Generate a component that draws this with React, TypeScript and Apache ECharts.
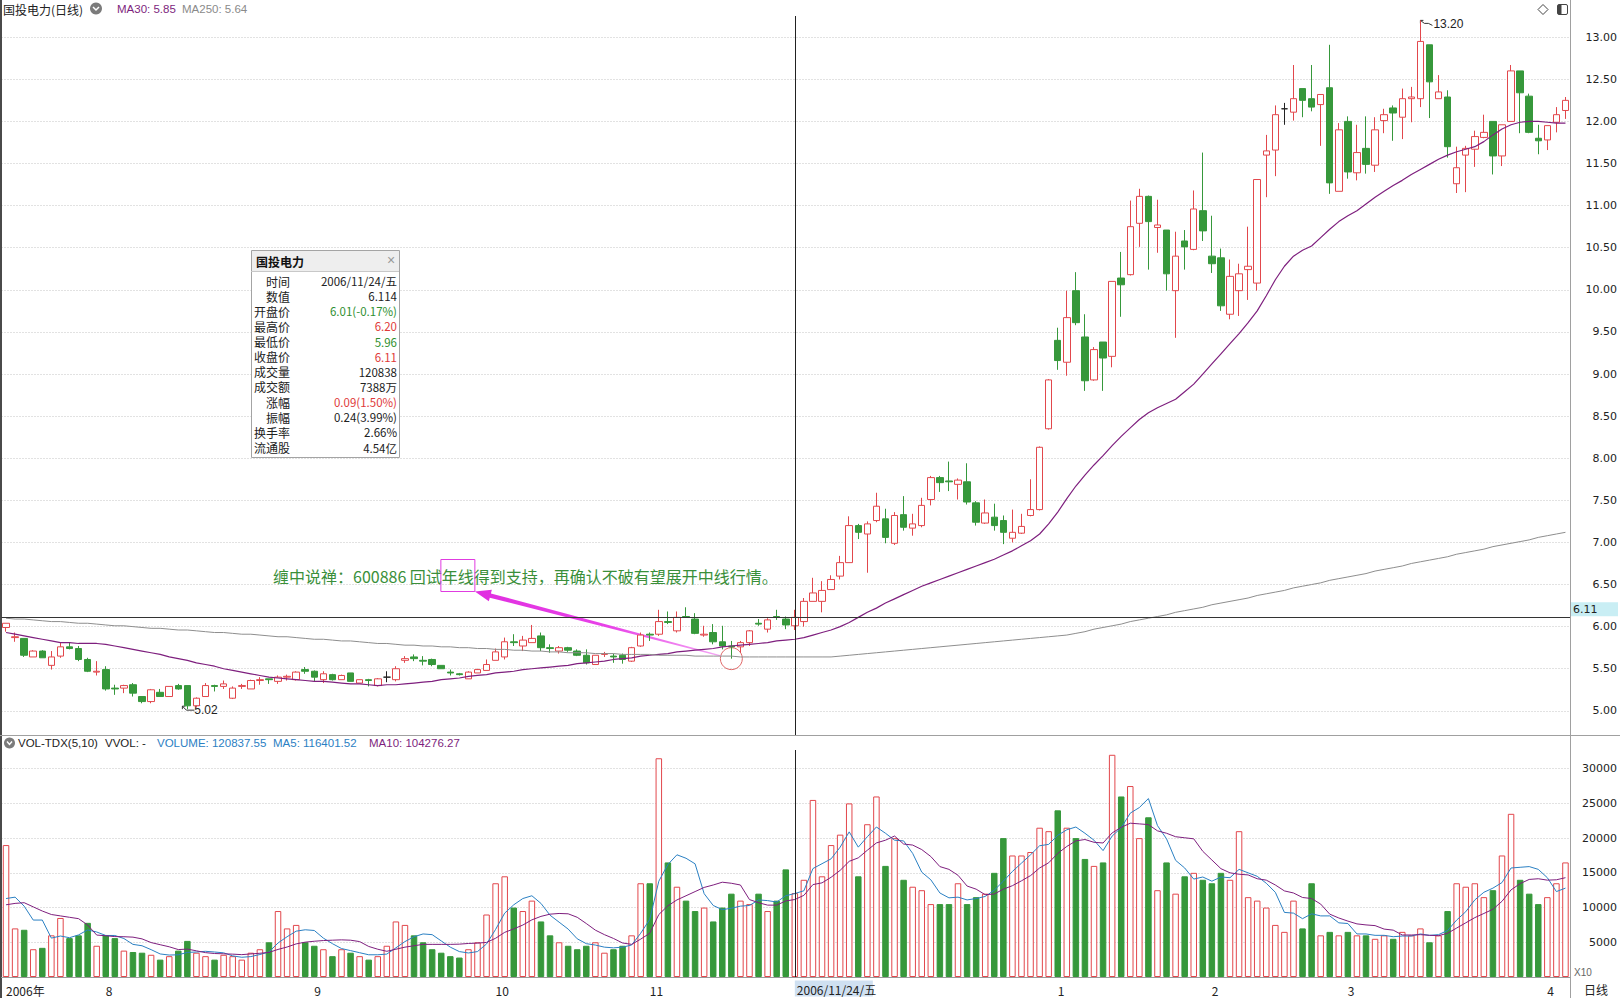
import React, { useEffect, useRef } from 'react';
import * as echarts from 'echarts';

// ---------- data ----------
const opens = [
  5.99, 5.87, 5.86, 5.64, 5.71, 5.54, 5.65, 5.76, 5.74, 5.61,
  5.46, 5.49, 5.27, 5.27, 5.31, 5.17, 5.11, 5.22, 5.17, 5.30,
  5.30, 5.06, 5.17, 5.30, 5.29, 5.15, 5.29, 5.26, 5.36, 5.38,
  5.35, 5.40, 5.37, 5.49, 5.47, 5.37, 5.43, 5.37, 5.45, 5.33,
  5.37, 5.30, 5.40, 5.37, 5.60, 5.64, 5.60, 5.61, 5.54, 5.46,
  5.44, 5.38, 5.45, 5.48, 5.60, 5.64, 5.82, 5.77, 5.81, 5.89,
  5.75, 5.71, 5.75, 5.71, 5.66, 5.55, 5.67, 5.65, 5.66, 5.59,
  5.77, 5.91, 5.91, 6.06, 5.95, 6.12, 6.09, 5.90, 5.93, 5.82,
  5.77, 5.76, 5.81, 6.04, 5.97, 6.12, 6.09, 6.01, 6.06, 6.30,
  6.30, 6.44, 6.60, 6.76, 7.20, 7.10, 7.26, 7.28, 6.99, 7.33,
  7.17, 7.20, 7.51, 7.77, 7.73, 7.69, 7.72, 7.47, 7.23, 7.30,
  7.26, 7.05, 7.11, 7.32, 7.39, 8.35, 9.40, 9.14, 9.99, 9.44,
  8.93, 9.38, 9.21, 10.14, 10.18, 10.79, 11.11, 10.74, 10.71, 9.99,
  10.58, 10.48, 10.94, 10.40, 10.38, 9.71, 9.99, 10.24, 10.08, 11.60,
  11.66, 12.15, 12.11, 12.39, 12.27, 12.20, 12.40, 11.17, 12.00, 11.39,
  11.68, 11.48, 12.01, 12.16, 12.05, 12.27, 12.27, 12.91, 12.27, 12.29,
  11.26, 11.60, 11.67, 11.81, 12.00, 11.59, 12.00, 12.60, 12.30, 11.80,
  11.78, 11.99, 12.13,
];
const closes = [
  6.04, 5.88, 5.66, 5.71, 5.63, 5.64, 5.76, 5.74, 5.61, 5.47,
  5.47, 5.26, 5.26, 5.30, 5.21, 5.11, 5.25, 5.17, 5.29, 5.26,
  5.06, 5.15, 5.30, 5.29, 5.32, 5.27, 5.30, 5.36, 5.37, 5.37,
  5.40, 5.41, 5.46, 5.47, 5.40, 5.44, 5.37, 5.42, 5.35, 5.37,
  5.36, 5.38, 5.40, 5.50, 5.62, 5.62, 5.59, 5.55, 5.50, 5.45,
  5.43, 5.46, 5.49, 5.55, 5.70, 5.82, 5.81, 5.84, 5.86, 5.75,
  5.74, 5.75, 5.72, 5.66, 5.57, 5.66, 5.68, 5.64, 5.61, 5.75,
  5.90, 5.90, 6.06, 6.05, 6.11, 6.11, 5.92, 5.91, 5.82, 5.77,
  5.76, 5.81, 5.95, 6.03, 6.08, 6.11, 6.02, 6.11, 6.30, 6.40,
  6.43, 6.56, 6.76, 7.20, 7.12, 7.22, 7.43, 7.06, 7.32, 7.18,
  7.22, 7.44, 7.77, 7.71, 7.72, 7.74, 7.48, 7.24, 7.35, 7.20,
  7.12, 7.12, 7.19, 7.39, 8.13, 8.93, 9.16, 9.67, 9.61, 8.92,
  9.29, 9.19, 10.10, 10.06, 10.75, 11.11, 10.81, 10.77, 10.19, 10.40,
  10.51, 10.96, 10.70, 10.31, 9.81, 10.16, 10.19, 10.28, 11.31, 11.65,
  12.08, 12.15, 12.27, 12.25, 12.17, 12.32, 11.27, 11.90, 11.40, 11.63,
  11.49, 11.90, 12.08, 12.10, 12.27, 12.29, 12.95, 12.47, 12.35, 11.70,
  11.45, 11.68, 11.82, 11.87, 11.59, 11.96, 12.60, 12.34, 11.87, 11.77,
  11.95, 12.08, 12.25,
];
const highs = [
  6.04, 5.93, 5.86, 5.72, 5.72, 5.71, 5.81, 5.81, 5.77, 5.63,
  5.59, 5.53, 5.31, 5.31, 5.33, 5.17, 5.26, 5.26, 5.29, 5.32,
  5.30, 5.16, 5.33, 5.31, 5.36, 5.29, 5.32, 5.37, 5.40, 5.38,
  5.42, 5.43, 5.47, 5.52, 5.48, 5.47, 5.44, 5.43, 5.45, 5.37,
  5.38, 5.39, 5.47, 5.53, 5.65, 5.67, 5.65, 5.62, 5.54, 5.49,
  5.45, 5.47, 5.50, 5.61, 5.74, 5.87, 5.91, 5.89, 6.02, 5.93,
  5.79, 5.77, 5.76, 5.73, 5.73, 5.66, 5.70, 5.68, 5.68, 5.76,
  5.93, 5.93, 6.20, 6.18, 6.18, 6.23, 6.16, 6.01, 6.03, 6.01,
  5.83, 5.83, 5.96, 6.09, 6.10, 6.20, 6.12, 6.20, 6.34, 6.58,
  6.54, 6.61, 6.84, 7.31, 7.22, 7.25, 7.59, 7.40, 7.36, 7.55,
  7.34, 7.53, 7.79, 7.79, 7.96, 7.76, 7.94, 7.49, 7.51, 7.46,
  7.32, 7.39, 7.34, 7.75, 8.14, 8.94, 9.55, 9.99, 10.21, 9.71,
  9.32, 9.38, 10.10, 10.45, 11.06, 11.20, 11.12, 11.07, 10.71, 10.69,
  10.71, 11.18, 11.63, 10.88, 10.49, 10.36, 10.31, 10.75, 11.31, 11.84,
  12.19, 12.22, 12.67, 12.39, 12.67, 12.32, 12.91, 11.98, 12.06, 11.96,
  12.06, 12.05, 12.15, 12.19, 12.39, 12.41, 13.20, 12.91, 12.55, 12.37,
  11.70, 11.71, 11.89, 12.08, 12.00, 11.96, 12.67, 12.60, 12.33, 11.96,
  11.95, 12.17, 12.29,
];
const lows = [
  5.94, 5.82, 5.64, 5.64, 5.63, 5.49, 5.63, 5.73, 5.59, 5.46,
  5.42, 5.24, 5.19, 5.21, 5.17, 5.09, 5.09, 5.17, 5.17, 5.25,
  5.02, 5.04, 5.17, 5.23, 5.26, 5.14, 5.26, 5.26, 5.31, 5.32,
  5.32, 5.36, 5.36, 5.44, 5.35, 5.33, 5.36, 5.37, 5.35, 5.33,
  5.29, 5.29, 5.34, 5.35, 5.57, 5.59, 5.54, 5.53, 5.50, 5.42,
  5.42, 5.38, 5.45, 5.48, 5.60, 5.61, 5.77, 5.71, 5.81, 5.71,
  5.69, 5.68, 5.70, 5.65, 5.55, 5.55, 5.64, 5.57, 5.56, 5.58,
  5.76, 5.83, 5.89, 6.03, 5.93, 6.11, 5.91, 5.88, 5.79, 5.73,
  5.62, 5.69, 5.77, 6.01, 5.93, 6.08, 5.97, 5.96, 6.00, 6.30,
  6.17, 6.44, 6.56, 6.76, 7.04, 6.64, 7.24, 6.99, 6.97, 7.14,
  7.08, 7.18, 7.44, 7.60, 7.61, 7.51, 7.45, 7.20, 7.22, 7.14,
  6.98, 7.00, 7.10, 7.31, 7.38, 8.34, 9.05, 8.98, 9.58, 8.80,
  8.92, 8.80, 9.08, 9.68, 10.17, 10.51, 10.24, 10.44, 9.99, 9.43,
  10.24, 10.47, 10.58, 10.20, 9.75, 9.65, 9.69, 9.88, 9.99, 11.10,
  11.35, 11.96, 12.01, 12.05, 12.12, 11.71, 11.14, 11.17, 11.32, 11.30,
  11.38, 11.40, 11.86, 11.77, 11.79, 11.99, 12.17, 12.04, 12.27, 11.57,
  11.15, 11.16, 11.46, 11.80, 11.37, 11.47, 12.00, 11.86, 11.86, 11.61,
  11.66, 11.87, 12.03,
];
const ma30 = [
  5.93, 5.91, 5.89, 5.87, 5.85, 5.83, 5.81, 5.81, 5.80, 5.80,
  5.80, 5.79, 5.77, 5.75, 5.73, 5.71, 5.69, 5.67, 5.64, 5.62,
  5.60, 5.57, 5.55, 5.53, 5.50, 5.48, 5.46, 5.44, 5.42, 5.40,
  5.39, 5.38, 5.37, 5.36, 5.35, 5.35, 5.34, 5.33, 5.32, 5.32,
  5.31, 5.30, 5.31, 5.31, 5.32, 5.33, 5.34, 5.35, 5.37, 5.38,
  5.39, 5.41, 5.42, 5.43, 5.45, 5.46, 5.47, 5.49, 5.50, 5.51,
  5.52, 5.53, 5.54, 5.56, 5.57, 5.58, 5.59, 5.61, 5.62, 5.63,
  5.65, 5.66, 5.67, 5.68, 5.70, 5.71, 5.72, 5.73, 5.74, 5.76,
  5.77, 5.78, 5.79, 5.80, 5.81, 5.83, 5.84, 5.85, 5.87, 5.90,
  5.93, 5.96, 6.00, 6.05, 6.11, 6.17, 6.22, 6.28, 6.33, 6.38,
  6.43, 6.48, 6.52, 6.56, 6.60, 6.64, 6.68, 6.72, 6.76, 6.80,
  6.85, 6.90, 6.96, 7.02, 7.10, 7.22, 7.36, 7.52, 7.67, 7.80,
  7.92, 8.03, 8.15, 8.26, 8.36, 8.46, 8.54, 8.60, 8.65, 8.70,
  8.79, 8.88, 9.00, 9.12, 9.24, 9.36, 9.48, 9.61, 9.75, 9.93,
  10.12, 10.28, 10.40, 10.47, 10.52, 10.62, 10.72, 10.81, 10.88, 10.94,
  11.02, 11.10, 11.17, 11.24, 11.30, 11.37, 11.43, 11.49, 11.55, 11.60,
  11.64, 11.67, 11.70, 11.76, 11.84, 11.91, 11.96, 11.99, 12.00, 12.00,
  11.99, 11.98, 11.98,
];
const ma250 = [
  6.10, 6.09, 6.09, 6.08, 6.07, 6.06, 6.06, 6.05, 6.04, 6.04,
  6.03, 6.02, 6.01, 6.01, 6.00, 5.99, 5.98, 5.98, 5.97, 5.96,
  5.96, 5.95, 5.94, 5.93, 5.93, 5.92, 5.91, 5.91, 5.90, 5.89,
  5.88, 5.88, 5.87, 5.86, 5.85, 5.85, 5.84, 5.83, 5.83, 5.82,
  5.81, 5.80, 5.80, 5.79, 5.78, 5.78, 5.77, 5.77, 5.76, 5.76,
  5.75, 5.75, 5.74, 5.74, 5.73, 5.73, 5.72, 5.72, 5.71, 5.71,
  5.70, 5.70, 5.69, 5.69, 5.69, 5.68, 5.68, 5.68, 5.67, 5.67,
  5.67, 5.67, 5.66, 5.66, 5.66, 5.66, 5.65, 5.65, 5.65, 5.65,
  5.65, 5.64, 5.64, 5.64, 5.64, 5.64, 5.64, 5.64, 5.64, 5.64,
  5.64, 5.64, 5.65, 5.66, 5.67, 5.68, 5.69, 5.70, 5.71, 5.72,
  5.73, 5.74, 5.75, 5.76, 5.77, 5.78, 5.79, 5.80, 5.81, 5.82,
  5.83, 5.84, 5.85, 5.86, 5.87, 5.88, 5.89, 5.90, 5.92, 5.94,
  5.97, 5.99, 6.01, 6.03, 6.06, 6.08, 6.10, 6.12, 6.14, 6.17,
  6.19, 6.21, 6.23, 6.26, 6.28, 6.30, 6.32, 6.34, 6.37, 6.39,
  6.41, 6.43, 6.46, 6.48, 6.50, 6.52, 6.55, 6.57, 6.59, 6.61,
  6.63, 6.66, 6.68, 6.70, 6.72, 6.75, 6.77, 6.79, 6.81, 6.83,
  6.86, 6.88, 6.90, 6.92, 6.95, 6.97, 6.99, 7.01, 7.03, 7.06,
  7.08, 7.10, 7.12,
];
// volume in units of 10 shares (axis is "X10")
const volumes = [
  19000, 7000, 6800, 4000, 4200, 6000, 8500, 5600, 6000, 7800,
  4500, 6000, 5600, 3800, 3600, 3500, 3200, 2500, 3000, 3800,
  5200, 3500, 3000, 2500, 3200, 3000, 2500, 3500, 4000, 5000,
  9500, 7000, 7500, 5000, 4500, 4000, 3000, 4000, 3500, 3000,
  2500, 3000, 4500, 8000, 7500, 6000, 5000, 4000, 3500, 3000,
  2800, 4000, 5000, 9000, 13500, 14500, 10000, 9500, 11000, 8000,
  6000, 5000, 4500, 4000, 4500, 5000, 3500, 4000, 4500, 6000,
  13500, 13500, 31500, 16500, 13000, 11000, 9500, 10000, 8000, 10000,
  12000, 11000, 10500, 12000, 9500, 11000, 15500, 12084, 14000, 25500,
  14500, 19000, 20500, 25000, 14500, 22000, 26000, 16000, 20000, 14000,
  13000, 12500, 10500, 10500, 10500, 13500, 10500, 11500, 12000, 15000,
  20000, 17500, 17500, 18000, 21500, 21000, 24000, 21500, 20000, 17000,
  16000, 16500, 32000, 26000, 27500, 20000, 23000, 12500, 16500, 12000,
  14500, 15000, 14000, 13500, 15000, 14000, 21000, 11500, 11000, 10000,
  7500, 6500, 11000, 7000, 13500, 6000, 6500, 6000, 6500, 6000,
  6000, 5500, 6000, 5500, 6500, 6000, 7000, 5000, 6000, 9500,
  13500, 13000, 13500, 11500, 12500, 17500, 23500, 14000, 12000, 10500,
  11500, 13500, 16500,
];
// volume averages at the left edge (their windows start before the visible data)
const vma5Head = [11300, 11500, 10200, 8200];
const vma10Head = [10400, 10600, 10700, 10100, 9500, 9000, 8800, 8600, 8400];
const priceTicks = [5, 5.5, 6, 6.5, 7, 7.5, 8, 8.5, 9, 9.5, 10, 10.5, 11, 11.5, 12, 12.5, 13];
const volumeTicks = [5000, 10000, 15000, 20000, 25000, 30000];
const monthLabels: [number, string][] = [
  [0, '2006年'], [11, '8'], [34, '9'], [54, '10'], [71, '11'],
  [116, '1'], [133, '2'], [148, '3'], [170, '4'],
];
const crossIndex = 87;
const lastPrice = 6.11;
const lowIndex = 20;
const highIndex = 156;
const circledIndex = 80;
const tipRows: [string, string, string][] = [
  ['时间', '2006/11/24/五', '#222'],
  ['数值', '6.114', '#222'],
  ['开盘价', '6.01(-0.17%)', '#2f8f2f'],
  ['最高价', '6.20', '#e03a3a'],
  ['最低价', '5.96', '#2f8f2f'],
  ['收盘价', '6.11', '#e03a3a'],
  ['成交量', '120838', '#222'],
  ['成交额', '7388万', '#222'],
  ['涨幅', '0.09(1.50%)', '#e03a3a'],
  ['振幅', '0.24(3.99%)', '#222'],
  ['换手率', '2.66%', '#222'],
  ['流通股', '4.54亿', '#222'],
];
const noteText = '缠中说禅：600886 回试年线得到支持，再确认不破有望展开中线行情。';
const notePrefix = '缠中说禅：600886 回试';
const noteMark = '年线';

// ---------- style ----------
const RED = '#e2474c';
const GREEN = '#36983b';
const PURPLE = '#7e1f7e';
const GRAY_MA = '#8e8e8e';
const BLUE = '#2b80c3';
const LATIN = '"Liberation Sans", "Noto Sans CJK SC", sans-serif';
const AXISF = '"DejaVu Sans", sans-serif';
const CJK = '"Noto Sans CJK SC", sans-serif';
const GRID_LEFT = 1.5;
const GRID_W = 1569;

function movingAverage(values: number[], n: number, head: number[]) {
  return values.map((_, i) => {
    if (i < head.length) return head[i];
    let sum = 0;
    for (let k = i - n + 1; k <= i; k++) sum += values[k];
    return sum / n;
  });
}

function txt(x: number, y: number, text: string, fill: string, font: string, align = 'left', vAlign = 'middle'): any {
  return {
    type: 'text', x, y, silent: true,
    style: { text, fill, font, textAlign: align, textVerticalAlign: vAlign, align, verticalAlign: vAlign },
  };
}

function buildOption(): any {
  const categories = opens.map((_, i) => String(i));
  const candles = opens.map((o, i) => [o, closes[i], lows[i], highs[i]]);
  const volBars = volumes.map((v, i) => {
    const up = closes[i] >= opens[i];
    return {
      value: v,
      itemStyle: up
        ? { color: '#ffffff', borderColor: RED, borderWidth: 1 }
        : { color: GREEN, borderColor: GREEN, borderWidth: 1 },
    };
  });
  const vma5 = movingAverage(volumes, 5, vma5Head);
  const vma10 = movingAverage(volumes, 10, vma10Head);
  const monthMap: Record<number, string> = {};
  monthLabels.forEach(([i, t]) => (monthMap[i] = t));
  const dotted = { color: '#c4c4c4', width: 1, type: [1, 2] };
  const vline = {
    silent: true, symbol: ['none', 'none'], label: { show: false },
    lineStyle: { color: '#222', width: 1, type: 'solid' },
    emphasis: { disabled: true },
  };

  return {
    animation: false,
    backgroundColor: '#ffffff',
    grid: [
      { left: GRID_LEFT, width: GRID_W, top: 16, height: 719 },
      { left: GRID_LEFT, width: GRID_W, top: 750, height: 227 },
    ],
    xAxis: [
      {
        type: 'category', gridIndex: 0, data: categories, boundaryGap: true,
        axisLine: { show: false }, axisTick: { show: false }, axisLabel: { show: false }, splitLine: { show: false },
      },
      {
        type: 'category', gridIndex: 1, data: categories, boundaryGap: true,
        axisLine: { show: true, lineStyle: { color: '#9a9a9a' } },
        axisTick: { show: false },
        axisLabel: {
          interval: (i: number) => monthMap[i] !== undefined,
          formatter: (_v: string, i: number) => monthMap[i] ?? '',
          align: 'left', margin: 7, color: '#222', fontSize: 12, fontFamily: CJK,
        },
        splitLine: { show: false },
      },
    ],
    yAxis: [
      {
        type: 'value', gridIndex: 0, position: 'right', min: 4.713, max: 13.252, scale: true,
        axisLine: { show: false },
        axisTick: { show: false, customValues: priceTicks },
        axisLabel: {
          customValues: priceTicks, formatter: (v: number) => v.toFixed(2),
          align: 'right', margin: 47, color: '#222', fontSize: 11, fontFamily: AXISF,
        },
        splitLine: { show: true, lineStyle: dotted },
      },
      {
        type: 'value', gridIndex: 1, position: 'right', min: 0, max: 32690,
        axisLine: { show: false },
        axisTick: { show: false, customValues: volumeTicks },
        axisLabel: {
          customValues: volumeTicks, formatter: (v: number) => String(v),
          align: 'right', margin: 47, color: '#222', fontSize: 11, fontFamily: AXISF,
        },
        splitLine: { show: true, lineStyle: dotted },
      },
    ],
    series: [
      {
        type: 'candlestick', xAxisIndex: 0, yAxisIndex: 0, data: candles, barWidth: 7,
        itemStyle: {
          color: '#ffffff', color0: GREEN, borderColor: RED, borderColor0: GREEN,
          borderColorDoji: '#222', borderWidth: 1,
        },
        markLine: {
          ...vline,
          data: [{ xAxis: categories[crossIndex] }, { yAxis: lastPrice, lineStyle: { color: '#333', width: 1 } }],
        },
      },
      {
        type: 'line', xAxisIndex: 0, yAxisIndex: 0, data: ma30, showSymbol: false, silent: true,
        lineStyle: { color: PURPLE, width: 1.2 },
      },
      {
        type: 'line', xAxisIndex: 0, yAxisIndex: 0, data: ma250, showSymbol: false, silent: true,
        lineStyle: { color: GRAY_MA, width: 1 },
      },
      {
        type: 'bar', xAxisIndex: 1, yAxisIndex: 1, data: volBars, barWidth: 6.5, silent: true,
        markLine: { ...vline, data: [{ xAxis: categories[crossIndex] }] },
      },
      {
        type: 'line', xAxisIndex: 1, yAxisIndex: 1, data: vma5, showSymbol: false, silent: true,
        lineStyle: { color: BLUE, width: 1 },
      },
      {
        type: 'line', xAxisIndex: 1, yAxisIndex: 1, data: vma10, showSymbol: false, silent: true,
        lineStyle: { color: PURPLE, width: 1 },
      },
    ],
  };
}

function measure(text: string, font: string) {
  const ctx = document.createElement('canvas').getContext('2d');
  if (!ctx) return text.length * 12;
  ctx.font = font;
  return ctx.measureText(text).width;
}

function buildGraphics(chart: any): any[] {
  const toPx = (grid: number, i: number, v: number) =>
    chart.convertToPixel({ gridIndex: grid }, [i, v]) as number[];
  const g: any[] = [];

  // frame
  g.push({ type: 'rect', shape: { x: 0, y: 0, width: 2, height: 998 }, style: { fill: '#4a4a4a' }, silent: true });
  g.push({ type: 'line', shape: { x1: 0, y1: 735.5, x2: 1620, y2: 735.5 }, style: { stroke: '#a0a0a0', lineWidth: 1 }, silent: true });
  g.push({ type: 'line', shape: { x1: 1570.5, y1: 0, x2: 1570.5, y2: 998 }, style: { stroke: '#a0a0a0', lineWidth: 1 }, silent: true });

  // header of main panel
  g.push(txt(3, 9, '国投电力(日线)', '#222', `12px ${CJK}`));
  g.push({ type: 'circle', shape: { cx: 96, cy: 8.5, r: 6 }, style: { fill: '#7b7b7b' }, silent: true });
  g.push({ type: 'polyline', shape: { points: [[93, 7], [96, 10], [99, 7]] }, style: { stroke: '#fff', lineWidth: 1.5, fill: 'none' }, silent: true });
  g.push(txt(117, 9, 'MA30: 5.85', PURPLE, `11.5px ${LATIN}`));
  g.push(txt(182, 9, 'MA250: 5.64', '#8a8a8a', `11.5px ${LATIN}`));

  // top-right icons
  g.push({ type: 'polygon', shape: { points: [[1543, 4.5], [1548, 9.5], [1543, 14.5], [1538, 9.5]] }, style: { stroke: '#444', fill: 'none', lineWidth: 1 }, silent: true });
  g.push({ type: 'rect', shape: { x: 1557.5, y: 4.5, width: 10, height: 10, r: 1.5 }, style: { stroke: '#444', fill: '#fff', lineWidth: 1 }, silent: true });
  g.push({ type: 'rect', shape: { x: 1558, y: 5, width: 3.5, height: 9 }, style: { fill: '#444' }, silent: true });

  // last price label on the axis
  const lp = toPx(0, crossIndex, lastPrice);
  g.push({ type: 'rect', shape: { x: 1571, y: lp[1] - 15, width: 47, height: 14 }, style: { fill: '#c9eef4' }, silent: true });
  g.push(txt(1573, lp[1] - 8, lastPrice.toFixed(2), '#222', `11px ${AXISF}`));

  // low / high markers
  const lo = toPx(0, lowIndex, lows[lowIndex]);
  g.push({ type: 'polyline', shape: { points: [[lo[0] - 5, lo[1] - 3], [lo[0] - 1, lo[1] + 1], [lo[0] + 7, lo[1] + 1]] }, style: { stroke: '#333', lineWidth: 1, fill: 'none' }, silent: true });
  g.push({ type: 'polyline', shape: { points: [[lo[0] - 5, lo[1]], [lo[0] - 5, lo[1] - 3], [lo[0] - 2, lo[1] - 3]] }, style: { stroke: '#333', lineWidth: 1, fill: 'none' }, silent: true });
  g.push(txt(lo[0] + 7, lo[1] + 1, lows[lowIndex].toFixed(2), '#222', `12px ${LATIN}`));
  const hi = toPx(0, highIndex, highs[highIndex]);
  g.push({ type: 'polyline', shape: { points: [[hi[0], hi[1]], [hi[0] + 4, hi[1] + 3], [hi[0] + 8, hi[1] + 3], [hi[0] + 12, hi[1] + 5]] }, style: { stroke: '#333', lineWidth: 1, fill: 'none' }, silent: true });
  g.push({ type: 'polyline', shape: { points: [[hi[0], hi[1] + 3], [hi[0], hi[1]], [hi[0] + 3, hi[1]]] }, style: { stroke: '#333', lineWidth: 1, fill: 'none' }, silent: true });
  g.push(txt(hi[0] + 13, hi[1] + 4, highs[highIndex].toFixed(2), '#222', `12px ${LATIN}`));

  // annotation text, box, arrow, circle
  const noteFont = `16px ${CJK}`;
  const noteX = 273;
  const noteY = 575.5;
  g.push(txt(noteX, noteY, noteText, '#3a8f3a', noteFont));
  const bx = noteX + measure(notePrefix, noteFont) - 1;
  const bw = measure(noteMark, noteFont) + 2;
  const by = 559.5;
  const bh = 32;
  g.push({ type: 'rect', shape: { x: bx, y: by, width: bw, height: bh }, style: { stroke: '#e03ce0', fill: 'none', lineWidth: 1 }, silent: true });
  const cc = toPx(0, circledIndex, lows[circledIndex]);
  const cr = 11;
  g.push({ type: 'circle', shape: { cx: cc[0], cy: cc[1], r: cr }, style: { stroke: '#e06868', fill: 'none', lineWidth: 1 }, silent: true });
  const tip = [bx + bw, by + bh];
  let dx = cc[0] - tip[0];
  let dy = cc[1] - tip[1];
  const len = Math.hypot(dx, dy);
  dx /= len; dy /= len;
  const tail = [cc[0] - dx * cr, cc[1] - dy * cr];
  const nx = -dy, ny = dx;
  const hl = 16, hw = 6;
  const base = [tip[0] + dx * hl, tip[1] + dy * hl];
  const pts = [
    tip,
    [base[0] + nx * hw, base[1] + ny * hw],
    [base[0] + nx * 2.2, base[1] + ny * 2.2],
    [tail[0] + nx * 0.6, tail[1] + ny * 0.6],
    [tail[0] - nx * 0.6, tail[1] - ny * 0.6],
    [base[0] - nx * 2.2, base[1] - ny * 2.2],
    [base[0] - nx * hw, base[1] - ny * hw],
  ];
  g.push({
    type: 'polygon', shape: { points: pts }, silent: true,
    style: {
      fill: new echarts.graphic.LinearGradient(0, 0, 1, 0, [
        { offset: 0, color: '#e02ee0' },
        { offset: 0.55, color: '#e843e8' },
        { offset: 1, color: '#f4a6f4' },
      ]),
    },
  });

  // data window (tooltip-like box)
  const tx = 251, ty = 250, tw = 148, th = 207;
  g.push({ type: 'rect', shape: { x: tx + 0.5, y: ty + 0.5, width: tw, height: th }, style: { fill: '#fff', stroke: '#a4a4a4', lineWidth: 1 }, silent: true });
  g.push({ type: 'rect', shape: { x: tx + 1, y: ty + 1, width: tw - 1, height: 20 }, style: { fill: '#eeeeee' }, silent: true });
  g.push({ type: 'line', shape: { x1: tx, y1: ty + 21.5, x2: tx + tw, y2: ty + 21.5 }, style: { stroke: '#c8c8c8', lineWidth: 1 }, silent: true });
  g.push(txt(tx + 5, ty + 11, '国投电力', '#111', `bold 12px ${CJK}`));
  g.push(txt(tx + tw - 8, ty + 10, '×', '#999', `14px ${LATIN}`, 'center'));
  tipRows.forEach(([k, v, c], r) => {
    const y = ty + 31 + r * 15.14;
    g.push(txt(tx + 39, y, k, '#222', `12px ${CJK}`, 'right'));
    g.push(txt(tx + 146, y, v, c, `11.5px ${CJK}`, 'right'));
  });

  // volume panel header
  g.push({ type: 'circle', shape: { cx: 9.5, cy: 743, r: 5.5 }, style: { fill: '#7b7b7b' }, silent: true });
  g.push({ type: 'polyline', shape: { points: [[7, 741.5], [9.5, 744.5], [12, 741.5]] }, style: { stroke: '#fff', lineWidth: 1.4, fill: 'none' }, silent: true });
  g.push(txt(18, 743, 'VOL-TDX(5,10)', '#222', `11.5px ${LATIN}`));
  g.push(txt(105, 743, 'VVOL: -', '#222', `11.5px ${LATIN}`));
  g.push(txt(157, 743, 'VOLUME: 120837.55', BLUE, `11.5px ${LATIN}`));
  g.push(txt(273, 743, 'MA5: 116401.52', BLUE, `11.5px ${LATIN}`));
  g.push(txt(369, 743, 'MA10: 104276.27', PURPLE, `11.5px ${LATIN}`));

  // bottom texts
  g.push(txt(1574, 972, 'X10', '#666', `10px ${LATIN}`));
  g.push(txt(1584, 989, '日线', '#222', `12px ${CJK}`));
  const cx = toPx(1, crossIndex, 0)[0];
  g.push({ type: 'rect', shape: { x: cx, y: 980.5, width: 78, height: 16 }, style: { fill: '#cfe0f1' }, silent: true });
  g.push(txt(cx + 2, 989, '2006/11/24/五', '#222', `12px ${CJK}`));

  return g;
}

export default function App() {
  const ref = useRef<HTMLDivElement>(null);
  useEffect(() => {
    const el = ref.current;
    if (!el) return;
    const chart = echarts.init(el, null, { renderer: 'svg' });
    chart.setOption(buildOption());
    chart.setOption({ graphic: buildGraphics(chart) });
    return () => chart.dispose();
  }, []);
  return (
    <div
      ref={ref}
      style={{ position: 'absolute', left: 0, top: 0, width: 1620, height: 998, background: '#fff' }}
    />
  );
}
